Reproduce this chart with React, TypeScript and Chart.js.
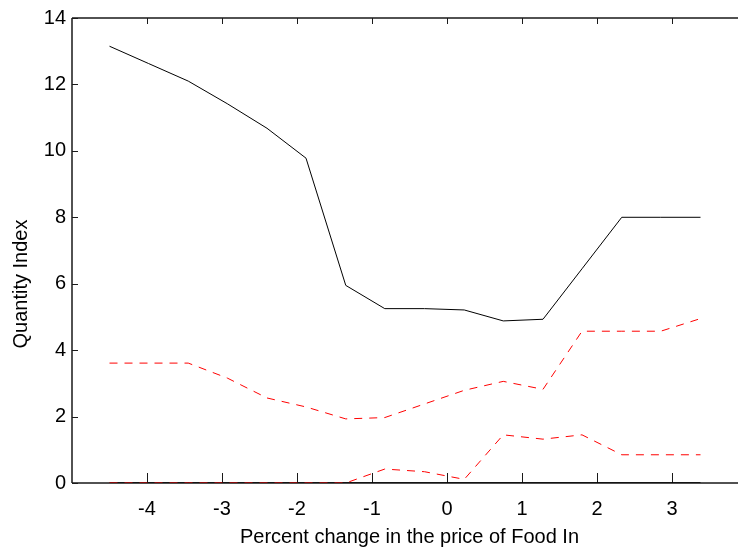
import React, { useEffect, useRef } from 'react';
import { Chart, registerables } from 'chart.js';

Chart.register(...registerables);

// Percent change in the price (x) and the resulting quantity index curves
const priceChange = [-4.5, -3.98, -3.45, -2.93, -2.4, -1.88, -1.35, -0.83, -0.3, 0.23, 0.75, 1.28, 1.8, 2.33, 2.85, 3.38];
const quantityIndex = [13.15, 12.63, 12.1, 11.42, 10.68, 9.78, 5.95, 5.25, 5.25, 5.21, 4.88, 4.93, 6.45, 8.0, 8.0, 8.0];
const upperBand = [3.61, 3.61, 3.61, 3.16, 2.56, 2.29, 1.93, 1.97, 2.38, 2.79, 3.06, 2.82, 4.57, 4.57, 4.57, 4.95];
const lowerBand = [0, 0, 0, 0, 0, 0, 0, 0.42, 0.34, 0.11, 1.45, 1.32, 1.45, 0.85, 0.85, 0.85];
const baseline = [0, 0, 0, 0, 0, 0, 0, 0, 0, 0, 0, 0, 0, 0, 0, 0];

const xTickValues = [-4, -3, -2, -1, 0, 1, 2, 3];
const yTickValues = [0, 2, 4, 6, 8, 10, 12, 14];

const xTitle = 'Percent change in the price of Food In';
const yTitle = 'Quantity Index';

const FONT_FAMILY = '"Liberation Sans", Arial, Helvetica, sans-serif';

const toPoints = (ys: number[]) => priceChange.map((x, i) => ({ x, y: ys[i] }));

// Box lines, inward tick marks and the rotated y-axis title
const framePlugin = {
  id: 'matlabFrame',
  beforeDatasetsDraw(chart: any) {
    const { ctx, chartArea, scales } = chart;
    const { left, right, top, bottom } = chartArea;
    const xs = scales.x;
    const ys = scales.y;
    ctx.save();
    ctx.strokeStyle = '#1a1a1a';
    ctx.lineWidth = 1.5;
    ctx.beginPath();
    ctx.moveTo(left, top);
    ctx.lineTo(right, top);
    ctx.moveTo(left, bottom);
    ctx.lineTo(right, bottom);
    ctx.moveTo(left, top);
    ctx.lineTo(left, bottom);
    ctx.stroke();

    ctx.lineWidth = 1;
    ctx.beginPath();
    xTickValues.forEach((v) => {
      const px = Math.round(xs.getPixelForValue(v)) + 0.5;
      ctx.moveTo(px, bottom);
      ctx.lineTo(px, bottom - 10);
      ctx.moveTo(px, top);
      ctx.lineTo(px, top + 6);
    });
    yTickValues.forEach((v) => {
      const py = Math.round(ys.getPixelForValue(v)) + 0.5;
      ctx.moveTo(left, py);
      ctx.lineTo(left + 6, py);
    });
    ctx.stroke();
    ctx.restore();
  },
  afterDraw(chart: any) {
    const { ctx } = chart;
    ctx.save();
    ctx.translate(21, 284);
    ctx.rotate(-Math.PI / 2);
    ctx.fillStyle = '#000';
    ctx.font = `20px ${FONT_FAMILY}`;
    ctx.textAlign = 'center';
    ctx.textBaseline = 'middle';
    ctx.fillText(yTitle, 0, 0);
    ctx.restore();
  },
};

export default function App() {
  const canvasRef = useRef<HTMLCanvasElement | null>(null);

  useEffect(() => {
    const canvas = canvasRef.current;
    if (!canvas) return;
    const tickFont = { family: FONT_FAMILY, size: 20 };
    const chart = new Chart(canvas, {
      type: 'line',
      data: {
        datasets: [
          { data: toPoints(quantityIndex), borderColor: '#000000', borderWidth: 1 },
          { data: toPoints(upperBand), borderColor: '#ff0000', borderWidth: 1, borderDash: [8, 7] },
          { data: toPoints(lowerBand), borderColor: '#ff0000', borderWidth: 1, borderDash: [8, 7] },
          { data: toPoints(baseline), borderColor: '#000000', borderWidth: 1.5 },
        ],
      },
      options: {
        animation: false,
        responsive: false,
        maintainAspectRatio: false,
        layout: { padding: { top: 17, left: 0, right: 0, bottom: 0 } },
        plugins: { legend: { display: false }, tooltip: { enabled: false } },
        elements: { point: { radius: 0 }, line: { tension: 0 } },
        scales: {
          x: {
            type: 'linear',
            min: -5,
            max: 4,
            grid: { display: false, drawTicks: false },
            border: { display: false },
            afterBuildTicks: (s: any) => {
              s.ticks = xTickValues.map((value) => ({ value }));
            },
            afterFit: (s: any) => {
              s.height = 70;
            },
            ticks: {
              font: tickFont,
              color: '#000',
              padding: 14,
              maxRotation: 0,
              autoSkip: false,
              callback: (v: any) => String(v),
            },
            title: {
              display: true,
              text: xTitle,
              font: tickFont,
              color: '#000',
              padding: { top: 0, bottom: 4 },
            },
          },
          y: {
            type: 'linear',
            min: 0,
            max: 14,
            grid: { display: false, drawTicks: false },
            border: { display: false },
            afterBuildTicks: (s: any) => {
              s.ticks = yTickValues.map((value) => ({ value }));
            },
            afterFit: (s: any) => {
              s.width = 72;
            },
            ticks: {
              font: tickFont,
              color: '#000',
              padding: 6,
              callback: (v: any) => String(v),
            },
          },
        },
      },
      plugins: [framePlugin],
    });
    return () => chart.destroy();
  }, []);

  return (
    <div style={{ position: 'fixed', left: 0, top: 0, width: 738, height: 553, overflow: 'hidden', background: '#fff' }}>
      <canvas ref={canvasRef} width={747} height={553} style={{ display: 'block' }} />
    </div>
  );
}
